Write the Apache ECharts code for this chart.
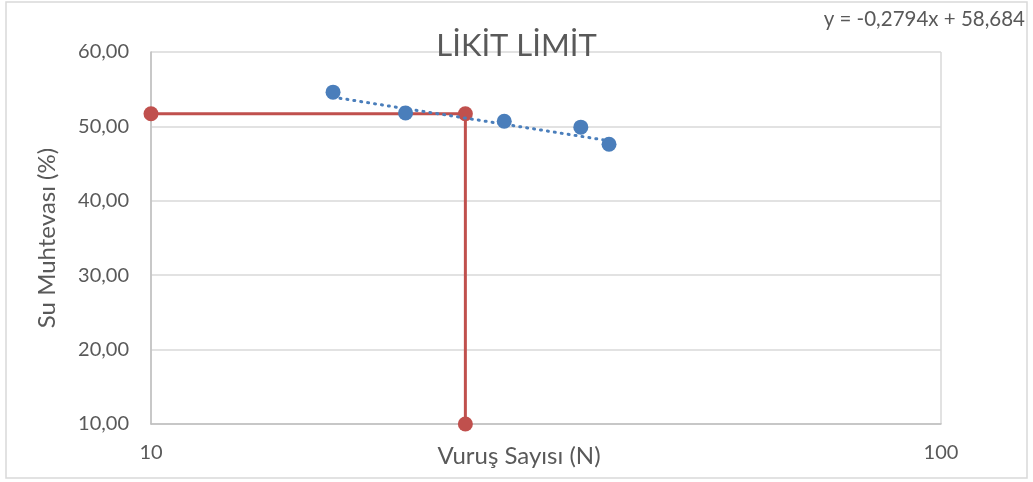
<!DOCTYPE html>
<html>
<head>
<meta charset="utf-8">
<script src="https://cdn.jsdelivr.net/npm/echarts@6/dist/echarts.min.js"></script>
<style>
  html, body { margin: 0; padding: 0; background: #fff; }
  #likitLimit { width: 1033px; height: 482px; }
</style>
</head>
<body>
<div id="likitLimit"></div>
<script>
// deney noktalari
const blowCounts = [17, 21, 28, 35, 38];
const waterContents = [54.6, 51.8, 50.7, 49.9, 47.6];

// trend cizgisi (y = -0,2794x + 58,684)
const trendX = [17, 38];
const trendY = [53.93, 48.07];

// likit limit okumasi (N = 25)
const llX = [10, 25, 25];
const llY = [51.7, 51.7, 10];

const xTicks = [10, 100];
const yTicks = [10, 20, 30, 40, 50, 60];

const textColor = '#595959';
const fontName = 'Lato';

const myChart = echarts.init(document.getElementById('likitLimit'));
//配置图表
const option = {
  backgroundColor: '#fff',
  animation: false,
  title: {
    text: 'LİKİT LİMİT',
    left: 'center',
    top: 25,
    textStyle: {
      fontFamily: fontName,
      fontSize: 31,
      fontWeight: 'normal',
      color: textColor
    }
  },
  graphic: [
    {
      type: 'rect',
      shape: { x: 6, y: 2, width: 1021, height: 476 },
      style: { fill: 'none', stroke: '#d9d9d9', lineWidth: 1.5 },
      silent: true
    },
    {
      type: 'text',
      right: 8,
      top: 9,
      style: {
        text: 'y = -0,2794x + 58,684',
        fontFamily: fontName,
        fontSize: 20.5,
        fill: textColor
      }
    }
  ],
  grid: {
    left: 151,
    right: 92,
    top: 52,
    bottom: 58,
    containLabel: false,
    outerBoundsMode: 'none'
  },
  xAxis: {
    type: 'log',
    logBase: 10,
    min: xTicks[0],
    max: xTicks[xTicks.length - 1],
    name: 'Vuruş Sayısı (N)',
    nameLocation: 'middle',
    nameGap: 20,
    nameMoveOverlap: false,
    nameTextStyle: {
      fontFamily: fontName,
      fontSize: 24,
      color: textColor,
      verticalAlign: 'top',
      padding: [0, 54, 0, 0]
    },
    axisLine: { show: true, lineStyle: { color: '#bfbfbf', width: 1.5 } },
    axisTick: { show: false },
    axisLabel: {
      margin: 19,
      fontFamily: fontName,
      fontSize: 20,
      color: textColor,
      formatter: function (v) { return String(Math.round(v)); }
    },
    splitLine: { show: true, lineStyle: { color: '#d9d9d9', width: 1.5 } }
  },
  yAxis: {
    type: 'value',
    min: yTicks[0],
    max: yTicks[yTicks.length - 1],
    interval: 10,
    name: 'Su Muhtevası (%)',
    nameLocation: 'middle',
    nameGap: 92,
    nameMoveOverlap: false,
    nameTextStyle: { fontFamily: fontName, fontSize: 24, color: textColor },
    axisLine: { show: true, lineStyle: { color: '#bfbfbf', width: 1.5 } },
    axisTick: { show: false },
    axisLabel: {
      margin: 22,
      fontFamily: fontName,
      fontSize: 20,
      color: textColor,
      formatter: function (v) { return v.toFixed(2).replace('.', ','); }
    },
    splitLine: { show: true, lineStyle: { color: '#d9d9d9', width: 1.5 } }
  },
  series: [
    {
      name: 'LL',
      type: 'line',
      data: llX.map((x, i) => [x, llY[i]]),
      symbol: 'circle',
      symbolSize: 15,
      lineStyle: { color: '#c0504d', width: 3 },
      itemStyle: { color: '#c0504d', opacity: 1 },
      z: 3
    },
    {
      name: 'Trend',
      type: 'line',
      data: trendX.map((x, i) => [x, trendY[i]]),
      symbol: 'none',
      lineStyle: { color: '#4a7ebb', width: 3, type: [1, 6], cap: 'round' },
      z: 4
    },
    {
      name: 'Deney',
      type: 'scatter',
      data: blowCounts.map((x, i) => [x, waterContents[i]]),
      symbol: 'circle',
      symbolSize: 15,
      itemStyle: { color: '#4a7ebb', opacity: 1 },
      z: 5
    }
  ]
};
myChart.setOption(option);
</script>
</body>
</html>
